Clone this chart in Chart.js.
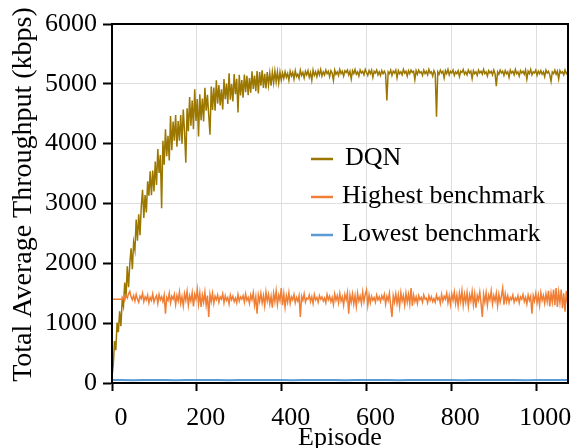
<!DOCTYPE html>
<html>
<head>
<meta charset="utf-8">
<script src="https://cdn.jsdelivr.net/npm/chart.js@4/dist/chart.umd.min.js"></script>
<style>
  html, body { margin: 0; padding: 0; background: #fff; }
  #wrap { width: 576px; height: 448px; }
</style>
</head>
<body>
<div id="wrap"><canvas id="chart" width="576" height="448"></canvas></div>
<script>
const episodes = [
  0, 3, 6, 9, 12, 15, 18, 21, 24, 27, 30, 33, 36, 39, 42, 45, 48, 51, 54, 57,
  60, 63, 66, 69, 72, 75, 78, 81, 84, 87, 90, 93, 96, 99, 102, 105, 108, 111, 114, 117,
  120, 123, 126, 129, 132, 135, 138, 141, 144, 147, 150, 153, 156, 159, 162, 165, 168, 171, 174, 177,
  180, 183, 186, 189, 192, 195, 198, 201, 204, 207, 210, 213, 216, 219, 222, 225, 228, 231, 234, 237,
  240, 243, 246, 249, 252, 255, 258, 261, 264, 267, 270, 273, 276, 279, 282, 285, 288, 291, 294, 297,
  300, 303, 306, 309, 312, 315, 318, 321, 324, 327, 330, 333, 336, 339, 342, 345, 348, 351, 354, 357,
  360, 363, 366, 369, 372, 375, 378, 381, 384, 387, 390, 393, 396, 399, 402, 405, 408, 411, 414, 417,
  420, 423, 426, 429, 432, 435, 438, 441, 444, 447, 450, 453, 456, 459, 462, 465, 468, 471, 474, 477,
  480, 483, 486, 489, 492, 495, 498, 501, 504, 507, 510, 513, 516, 519, 522, 525, 528, 531, 534, 537,
  540, 543, 546, 549, 552, 555, 558, 561, 564, 567, 570, 573, 576, 579, 582, 585, 588, 591, 594, 597,
  600, 603, 606, 609, 612, 615, 618, 621, 624, 627, 630, 633, 636, 639, 642, 645, 648, 651, 654, 657,
  660, 663, 666, 669, 672, 675, 678, 681, 684, 687, 690, 693, 696, 699, 702, 705, 708, 711, 714, 717,
  720, 723, 726, 729, 732, 735, 738, 741, 744, 747, 750, 753, 756, 759, 762, 765, 768, 771, 774, 777,
  780, 783, 786, 789, 792, 795, 798, 801, 804, 807, 810, 813, 816, 819, 822, 825, 828, 831, 834, 837,
  840, 843, 846, 849, 852, 855, 858, 861, 864, 867, 870, 873, 876, 879, 882, 885, 888, 891, 894, 897,
  900, 903, 906, 909, 912, 915, 918, 921, 924, 927, 930, 933, 936, 939, 942, 945, 948, 951, 954, 957,
  960, 963, 966, 969, 972, 975, 978, 981, 984, 987, 990, 993, 996, 999, 1002, 1005, 1008, 1011, 1014, 1017,
  1020, 1023, 1026, 1029, 1032, 1035, 1038, 1041, 1044, 1047, 1050, 1053, 1056, 1059, 1062, 1065, 1068, 1071, 1074,
];

const dqn = [
  100, 300, 700, 550, 1010, 850, 1200, 950, 1380, 1280, 1680, 1430, 1950, 1600, 2000, 2250, 1900, 2350, 2220, 2730,
  2380, 2820, 2470, 2950, 3230, 2760, 3140, 2850, 3370, 3130, 3540, 3140, 3550, 3200, 3700, 3310, 3910, 3510, 3810, 2920,
  4050, 3650, 4240, 3790, 4130, 3720, 4460, 3890, 4370, 4050, 4480, 3950, 4380, 4050, 4480, 4000, 4570, 4200, 3680, 4590,
  4210, 4780, 4300, 4720, 4240, 4910, 4380, 4745, 4120, 4825, 4390, 4755, 4370, 4935, 4550, 4815, 4480, 4150, 4955, 4565,
  4940, 4550, 5060, 4670, 4980, 4640, 4910, 4570, 5080, 4745, 5005, 4665, 5175, 4735, 4995, 4705, 5165, 4825, 5085, 4520,
  5150, 4805, 5062, 4768, 5155, 4860, 5135, 4810, 5095, 4850, 5210, 4915, 5140, 4878, 5215, 4840, 5195, 4970, 5225, 4932,
  5168, 4922, 5196, 4980, 5175, 4970, 5195, 5020, 5213, 5036, 5200, 5013, 5196, 5060, 5180, 5090, 5200, 5110, 5170, 5060,
  5210, 5130, 5190, 5080, 5220, 5120, 5160, 5090, 5230, 5140, 5190, 5100, 5210, 5150, 5220, 5110, 5190, 5060, 5230, 5140,
  5200, 5120, 5220, 5150, 5240, 5130, 5200, 5150, 5230, 5170, 5210, 5120, 5220, 5180, 5060, 5230, 5160, 5200, 5140, 5240,
  5170, 5210, 5130, 5220, 5190, 5230, 5150, 5210, 5080, 5220, 5170, 5240, 5160, 5200, 5130, 5230, 5180, 5210, 5150, 5240,
  5190, 5140, 5220, 5170, 5230, 5110, 5210, 5180, 5230, 5150, 5200, 5140, 5220, 5170, 5210, 5160, 4720, 5200, 5170, 5230,
  5140, 5210, 5180, 5230, 5100, 5220, 5170, 5200, 5150, 5240, 5180, 5210, 5130, 5220, 5170, 5230, 5190, 5210, 5070, 5220,
  5160, 5230, 5180, 5200, 5140, 5230, 5170, 5210, 5150, 5240, 5180, 5200, 5130, 5220, 5170, 4450, 5200, 5160, 5230, 5180,
  5210, 5100, 5220, 5170, 5240, 5150, 5210, 5180, 5230, 5140, 5200, 5170, 5220, 5120, 5210, 5190, 5240, 5160, 5200, 5150,
  5230, 5180, 5210, 5090, 5220, 5170, 5200, 5140, 5230, 5180, 5210, 5160, 5240, 5170, 5200, 5130, 5220, 5180, 5210, 5150,
  5230, 5170, 4960, 5200, 5160, 5230, 5180, 5210, 5140, 5220, 5170, 5200, 5110, 5230, 5180, 5210, 5150, 5240, 5170, 5200,
  5130, 5220, 5180, 5210, 5160, 5230, 5080, 5210, 5170, 5240, 5150, 5200, 5180, 5230, 5140, 5210, 5170, 5220, 5160, 5200,
  5120, 5230, 5180, 5210, 5150, 5040, 5200, 5170, 5230, 5160, 5210, 5080, 5220, 5180, 5200, 5150, 5230, 5170, 5200,
];

const highest = [
  1400, 1400, 1400, 1400, 1400, 1400, 1400, 1400, 1400, 1450, 1380, 1470, 1420, 1490, 1530, 1440, 1390, 1460, 1370, 1480,
  1400, 1350, 1450, 1410, 1500, 1360, 1440, 1390, 1470, 1340, 1430, 1380, 1490, 1350, 1420, 1460, 1330, 1480, 1390, 1440,
  1360, 1470, 1160, 1430, 1380, 1500, 1340, 1450, 1400, 1480, 1310, 1460, 1370, 1520, 1330, 1440, 1290, 1490, 1380, 1530,
  1300, 1460, 1370, 1510, 1280, 1480, 1400, 1565, 1320, 1500, 1270, 1470, 1350, 1520, 1300, 1460, 1105, 1480, 1360, 1500,
  1330, 1450, 1390, 1470, 1350, 1440, 1400, 1490, 1340, 1460, 1380, 1430, 1320, 1470, 1390, 1450, 1360, 1420, 1340, 1480,
  1370, 1440, 1400, 1460, 1350, 1490, 1380, 1430, 1330, 1470, 1390, 1510, 1300, 1440, 1160, 1470, 1360, 1500, 1340, 1460,
  1290, 1520, 1370, 1480, 1320, 1450, 1260, 1500, 1360, 1540, 1310, 1470, 1380, 1585, 1300, 1490, 1270, 1460, 1350, 1510,
  1330, 1440, 1390, 1480, 1340, 1430, 1370, 1460, 1105, 1450, 1380, 1490, 1350, 1420, 1400, 1470, 1360, 1440, 1330, 1480,
  1390, 1430, 1350, 1460, 1400, 1440, 1370, 1420, 1340, 1480, 1390, 1450, 1360, 1430, 1310, 1490, 1380, 1460, 1340, 1500,
  1370, 1440, 1300, 1480, 1390, 1510, 1160, 1470, 1350, 1490, 1320, 1460, 1280, 1500, 1370, 1450, 1330, 1520, 1360, 1480,
  1555, 1300, 1470, 1340, 1450, 1380, 1430, 1350, 1470, 1390, 1440, 1360, 1460, 1400, 1480, 1320, 1450, 1380, 1500, 1290,
  1105, 1460, 1350, 1490, 1330, 1470, 1280, 1510, 1370, 1460, 1300, 1500, 1350, 1480, 1320, 1585, 1290, 1470, 1360, 1440,
  1330, 1460, 1390, 1430, 1350, 1470, 1400, 1420, 1340, 1460, 1380, 1440, 1360, 1410, 1350, 1470, 1390, 1430, 1330, 1480,
  1370, 1450, 1400, 1500, 1340, 1460, 1310, 1490, 1380, 1520, 1330, 1470, 1290, 1500, 1360, 1540, 1300, 1480, 1350, 1510,
  1280, 1470, 1370, 1530, 1310, 1490, 1260, 1460, 1380, 1520, 1330, 1105, 1480, 1350, 1510, 1300, 1470, 1390, 1540, 1320,
  1460, 1370, 1500, 1290, 1480, 1350, 1450, 1585, 1310, 1490, 1360, 1460, 1340, 1430, 1390, 1470, 1350, 1420, 1380, 1460,
  1340, 1440, 1400, 1480, 1360, 1430, 1320, 1470, 1380, 1450, 1160, 1460, 1370, 1500, 1340, 1470, 1300, 1510, 1380, 1460,
  1330, 1490, 1360, 1540, 1280, 1500, 1350, 1560, 1300, 1585, 1270, 1520, 1340, 1560, 1250, 1500, 1190, 1540, 1330,
];

const lowestEpisodes = [
  0, 25, 50, 75, 100, 125, 150, 175, 200, 225, 250, 275, 300, 325, 350, 375, 400, 425, 450, 475, 500, 525,
  550, 575, 600, 625, 650, 675, 700, 725, 750, 775, 800, 825, 850, 875, 900, 925, 950, 975, 1000, 1025, 1050, 1075,
];
const lowest = [
  50, 50, 45, 50, 50, 50, 45, 50, 50, 50, 50, 45, 50, 50, 50, 50, 50, 45, 50, 50, 50, 50,
  45, 50, 50, 50, 50, 45, 50, 50, 50, 50, 50, 45, 50, 50, 50, 50, 50, 45, 50, 50, 50, 50,
];

const seriesNames = ["DQN", "Highest benchmark", "Lowest benchmark"];
const xTicks = [0, 200, 400, 600, 800, 1000];
const yTicks = [0, 1000, 2000, 3000, 4000, 5000, 6000];
const yTitle = "Total Average Throughput (kbps)";

const palette = {
  dqn: "#9b7700",
  highest: "#f07f35",
  lowest: "#5b9bd5",
};

const serif = "'Liberation Serif', 'Times New Roman', serif";

function toPoints(xs, values) {
  return xs.map((ep, i) => ({ x: ep, y: values[i] }));
}

// frame round the plot, the y title (sits a little above centre) and the in-plot legend
const framePlugin = {
  id: "frameAndLegend",
  afterDraw(chart) {
    const { ctx, chartArea } = chart;
    ctx.save();
    ctx.strokeStyle = "#000";
    ctx.lineWidth = 2;
    ctx.strokeRect(chartArea.left, chartArea.top, chartArea.right - chartArea.left, chartArea.bottom - chartArea.top);

    ctx.save();
    ctx.translate(24, (chartArea.top + chartArea.bottom) / 2 - 9);
    ctx.rotate(-Math.PI / 2);
    ctx.font = `28px ${serif}`;
    ctx.textAlign = "center";
    ctx.textBaseline = "middle";
    ctx.fillStyle = "#000";
    ctx.fillText(yTitle, 0, 0);
    ctx.restore();

    const colors = [palette.dqn, palette.highest, palette.lowest];
    const x0 = chartArea.left + 199;
    const rowTop = chartArea.top + 135;
    ctx.font = `26px ${serif}`;
    ctx.textBaseline = "middle";
    ctx.fillStyle = "#000";
    seriesNames.forEach((name, i) => {
      const y = rowTop + i * 38;
      ctx.strokeStyle = colors[i];
      ctx.lineWidth = 2.5;
      ctx.beginPath();
      ctx.moveTo(x0, y);
      ctx.lineTo(x0 + 22, y);
      ctx.stroke();
      ctx.fillText(name, x0 + (i === 0 ? 34 : 31), y - 1);
    });
    ctx.restore();
  },
};

new Chart(document.getElementById("chart"), {
  type: "line",
  data: {
    datasets: [
      {
        label: seriesNames[0],
        data: toPoints(episodes, dqn),
        borderColor: palette.dqn,
        borderWidth: 1.5,
        order: 2,
      },
      {
        label: seriesNames[1],
        data: toPoints(episodes, highest),
        borderColor: palette.highest,
        borderWidth: 1.5,
        order: 0,
      },
      {
        label: seriesNames[2],
        data: toPoints(lowestEpisodes, lowest),
        borderColor: palette.lowest,
        borderWidth: 2,
        order: 1,
      },
    ],
  },
  options: {
    responsive: false,
    animation: false,
    events: [],
    elements: { point: { radius: 0 }, line: { tension: 0 } },
    layout: { padding: { top: 24, right: 8, left: 0, bottom: 0 } },
    plugins: { legend: { display: false }, tooltip: { enabled: false } },
    scales: {
      x: {
        type: "linear",
        min: 0,
        max: 1075,
        afterBuildTicks: (axis) => { axis.ticks = xTicks.map((v) => ({ value: v })); },
        afterFit: (axis) => { axis.height = 65; },
        grid: { color: "#dedede", lineWidth: 1, tickLength: 8, tickColor: "#000", tickWidth: 2 },
        border: { color: "#000", width: 2 },
        ticks: {
          color: "#000",
          font: { family: serif, size: 26 },
          padding: 12,
          labelOffset: 9,
          maxRotation: 0,
          callback: (v) => String(v),
        },
        title: {
          display: true,
          text: "Episode",
          color: "#000",
          font: { family: serif, size: 26, lineHeight: 1 },
          padding: { top: 0, bottom: -3 },
        },
      },
      y: {
        min: 0,
        max: 6000,
        afterBuildTicks: (axis) => { axis.ticks = yTicks.map((v) => ({ value: v })); },
        afterFit: (axis) => { axis.width = 112; },
        grid: { color: "#dedede", lineWidth: 1, tickLength: 9, tickColor: "#000", tickWidth: 2 },
        border: { color: "#000", width: 2 },
        ticks: {
          color: "#000",
          font: { family: serif, size: 26 },
          padding: 6,
          callback: (v) => String(v),
        },
        title: { display: false },
      },
    },
  },
  plugins: [framePlugin],
});
</script>
</body>
</html>
